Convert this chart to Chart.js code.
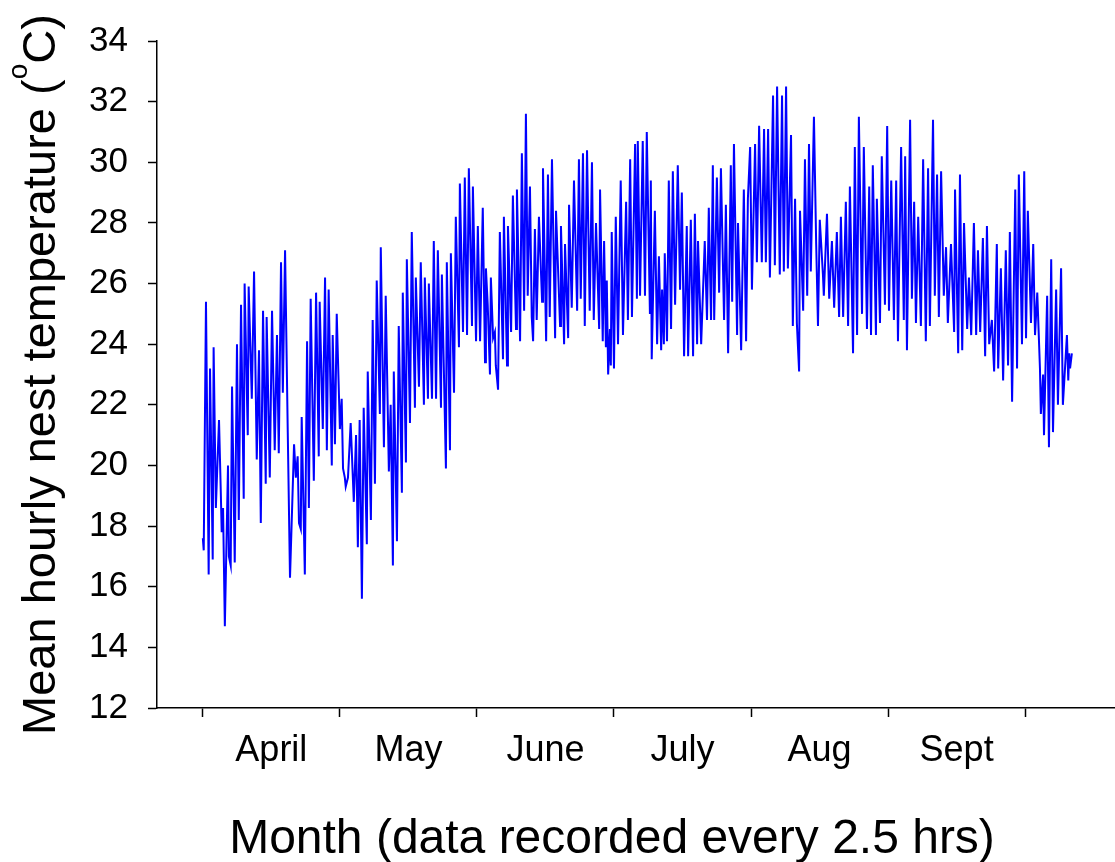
<!DOCTYPE html>
<html>
<head>
<meta charset="utf-8">
<title>Mean hourly nest temperature</title>
<script src="https://cdn.jsdelivr.net/npm/chart.js@4.4.0/dist/chart.umd.min.js"></script>
<style>
  html, body { margin: 0; padding: 0; background: #fff; }
  canvas { display: block; }
</style>
</head>
<body>
<canvas id="nestChart" width="1115" height="862"></canvas>
<script>
//Month names, one per month band on the time axis
const months = ['April', 'May', 'June', 'July', 'Aug', 'Sept'];

//Y axis tick values (deg C)
const tempTicks = [12, 14, 16, 18, 20, 22, 24, 26, 28, 30, 32, 34];

//Time of each reading, days since the start of April
const days = [
    0.0, 0.2, 0.7, 1.3, 1.6, 2.2, 2.4, 2.9, 3.6, 4.0, 4.2, 4.5, 4.9, 5.6, 5.8, 6.2, 6.5, 7.1, 7.6, 8.0,
    8.5, 9.1, 9.3, 10.0, 10.2, 10.9, 11.4, 12.0, 12.5, 12.9, 13.4, 14.0, 14.2, 14.9, 15.4, 16.0, 16.5, 16.9, 17.4, 17.8,
    18.3, 18.9, 19.4, 20.3, 20.7, 21.1, 21.4, 21.8, 22.0, 22.7, 23.2, 23.6,
    24.0, 24.7, 25.2, 25.8, 26.0, 26.7, 27.2, 27.6, 28.0, 28.7, 28.9, 29.4, 29.8, 30.5, 30.9, 31.2, 31.6, 31.8, 32.3, 32.9,
    33.6, 34.1, 34.5, 34.9, 35.4, 35.8, 36.5, 36.7, 37.4, 37.8, 38.3, 38.7, 39.4, 39.6, 40.3, 40.7, 41.4, 41.8, 42.3, 42.5,
    43.2, 43.6, 44.3, 44.5, 45.2, 45.4, 46.1, 46.5, 47.2, 47.4, 48.1,
    48.5, 49.2, 49.4, 50.1, 50.3, 51.0, 51.4, 51.9, 52.3, 53.0, 53.2, 54.1, 54.3, 55.0, 55.2, 55.9, 56.3, 57.0, 57.2, 57.9,
    58.3, 58.8, 59.2, 59.9, 60.1, 60.8, 61.2, 61.7, 62.3, 62.8, 63.0, 63.4, 63.9, 64.1, 64.6, 65.0, 65.2, 65.7, 66.1, 66.8,
    67.0, 67.7, 67.9, 68.6, 69.0, 69.7, 69.9, 70.6, 71.0, 71.5, 71.9, 72.3,
    72.8, 73.2, 73.5, 73.9, 74.3, 74.8, 75.5, 75.7, 76.4, 76.8, 77.2, 77.7, 78.4, 78.6, 79.5, 79.7, 80.4, 80.6, 81.3, 81.5,
    82.1, 82.6, 83.3, 83.7, 84.1, 84.6, 85.0, 85.5, 86.1, 86.6, 87.0, 87.5, 88.2, 88.4, 89.0, 89.3, 89.7, 89.9, 90.2, 90.6,
    90.8, 91.0, 91.5, 91.9, 92.4, 93.0, 93.5, 94.2, 94.6, 95.1, 95.5, 96.2, 96.6,
    96.8, 97.3, 97.9, 98.4, 98.8, 99.5, 99.7, 99.9, 100.6, 101.1, 101.5, 102.0, 102.2, 102.6, 102.8, 103.3, 103.7, 104.2, 104.6, 105.1,
    105.7, 106.2, 106.6, 107.1, 107.7, 108.0, 108.6, 109.1, 109.5, 110.0, 110.2, 110.9, 111.7, 112.2, 112.6, 113.1, 113.5, 113.8, 114.4, 114.9,
    115.3, 116.0, 116.4, 116.9, 117.5, 117.8, 118.2, 118.9, 119.1, 119.8, 120.4, 120.9, 121.3,
    121.8, 122.2, 122.9, 123.3, 123.8, 124.4, 124.9, 125.3, 125.8, 126.2, 126.9, 127.3, 127.8, 128.4, 128.9, 129.3, 129.8, 130.2, 130.9, 131.3,
    131.8, 132.2, 132.7, 132.9, 133.6, 134.0, 134.5, 134.9, 135.3, 136.0, 136.5, 136.9, 137.3, 138.0, 138.2, 138.9, 139.4, 140.0, 140.5, 141.1,
    141.6, 142.0, 142.5, 143.1, 143.6, 144.0, 144.7, 145.1, 145.6, 146.0,
    146.7, 147.1, 147.8, 148.3, 148.7, 149.1, 149.8, 150.0, 150.7, 151.1, 151.8, 152.3, 152.7, 153.2, 153.8, 154.3, 154.7, 155.4, 156.0, 156.3,
    156.7, 157.4, 157.8, 158.3, 158.7, 159.2, 159.8, 160.3, 160.9, 161.4, 161.8, 162.5, 162.9, 163.4, 163.8, 164.3, 164.9, 165.4, 165.8, 166.5,
    167.2, 167.4, 168.1, 168.5, 169.0, 169.4, 170.1,
    170.5, 171.0, 171.6, 172.1, 172.5, 173.0, 173.6, 174.1, 174.5, 175.0, 175.6, 176.1, 176.7, 177.0, 177.6, 178.1, 178.7, 179.2, 179.6, 180.1,
    180.8, 181.2, 181.6, 182.3, 182.8, 183.2, 183.6, 184.3, 184.8, 185.2, 185.7, 186.3, 186.5, 187.0, 187.2, 187.9, 188.3, 188.8, 189.2, 189.9,
    190.3, 191.0, 191.4, 192.3, 192.6, 192.8, 193.0, 193.4
];

//Mean hourly nest temperature at each reading (deg C)
const temps = [
    17.6, 17.2, 25.4, 16.4, 23.2, 16.9, 23.9, 18.6, 21.5, 19.1, 17.8, 18.6, 14.7, 20.0, 17.0, 16.7, 22.6, 16.8, 24.0, 18.2,
    25.3, 18.9, 26.0, 21.0, 25.9, 22.2, 26.4, 20.2, 23.8, 18.1, 25.1, 19.4, 24.9, 19.6, 25.1, 20.5, 24.3, 20.4, 26.7, 22.4,
    27.1, 21.1, 16.3, 20.7, 19.6, 20.3, 18.1, 17.9, 21.6, 16.4, 24.1, 18.6,
    25.5, 19.5, 25.7, 20.3, 25.4, 21.2, 26.2, 20.5, 25.8, 20.0, 24.3, 20.7, 25.0, 21.2, 22.2, 19.9, 19.6, 19.3, 19.6, 21.4,
    18.8, 21.0, 17.3, 21.5, 15.6, 21.9, 17.4, 23.1, 18.2, 24.8, 19.4, 26.1, 21.7, 27.2, 20.6, 25.6, 19.8, 22.0, 16.7, 23.1,
    17.5, 24.6, 19.1, 25.7, 20.1, 26.8, 21.4, 27.7, 21.9, 26.2, 22.6,
    26.7, 22.0, 26.2, 22.2, 26.0, 22.2, 27.4, 22.2, 27.1, 21.9, 26.3, 19.9, 26.7, 20.5, 27.0, 22.4, 28.2, 23.9, 29.3, 24.4,
    29.5, 24.3, 29.8, 24.6, 29.2, 24.1, 27.9, 24.1, 28.5, 23.4, 26.5, 25.3, 23.0, 26.2, 24.2, 24.4, 23.3, 22.5, 27.7, 23.5,
    28.2, 23.3, 27.9, 24.4, 28.9, 24.5, 29.1, 24.1, 30.3, 25.1, 31.6, 25.6,
    29.2, 24.9, 24.1, 27.8, 24.8, 28.2, 25.4, 29.8, 24.1, 29.6, 24.9, 30.1, 24.2, 28.4, 24.6, 27.9, 24.0, 27.3, 24.2, 28.6,
    25.2, 29.4, 25.1, 30.1, 25.5, 30.3, 24.6, 30.4, 25.1, 30.0, 24.8, 28.0, 24.5, 29.1, 24.1, 27.4, 23.9, 26.1, 23.0, 24.5,
    23.3, 27.7, 23.2, 28.2, 24.0, 29.4, 24.3, 28.7, 24.8, 30.1, 24.9, 30.6, 25.5,
    30.7, 25.6, 30.7, 25.6, 31.0, 25.0, 29.4, 23.5, 28.4, 24.0, 26.9, 23.8, 25.8, 24.0, 27.0, 24.1, 29.4, 24.5, 29.7, 25.3,
    29.9, 25.8, 29.0, 23.6, 27.9, 23.6, 28.1, 23.6, 28.3, 24.0, 27.4, 24.0, 27.4, 24.8, 28.5, 24.8, 29.9, 24.8, 29.5, 25.7,
    29.8, 24.8, 28.6, 23.7, 29.9, 25.4, 30.6, 24.3, 28.0, 23.8, 29.1, 24.1, 28.8,
    30.5, 25.8, 30.6, 26.7, 31.2, 26.7, 31.1, 26.7, 31.1, 26.2, 32.2, 26.6, 32.5, 26.3, 32.2, 26.4, 32.5, 26.5, 30.9, 24.6,
    28.8, 24.7, 23.1, 28.4, 25.1, 30.1, 25.6, 30.6, 26.4, 31.5, 27.3, 24.6, 28.1, 26.3, 25.6, 28.3, 25.5, 27.4, 25.2, 27.7,
    24.9, 28.2, 24.9, 28.7, 24.6, 29.2, 23.7, 30.5, 24.3, 31.5,
    25.0, 30.5, 24.5, 29.2, 24.3, 29.9, 24.3, 28.8, 24.7, 30.2, 25.3, 31.2, 25.1, 29.4, 24.8, 29.4, 24.1, 30.5, 24.8, 30.2,
    23.8, 31.4, 25.5, 28.7, 24.7, 28.2, 24.6, 30.1, 24.1, 29.8, 24.6, 31.4, 25.6, 29.6, 24.9, 29.7, 25.6, 27.2, 24.7, 27.3,
    24.4, 29.1, 23.7, 29.6, 23.8, 28.0, 24.5,
    26.2, 24.3, 28.0, 24.3, 27.1, 24.4, 27.5, 23.6, 27.9, 24.0, 24.8, 23.1, 27.3, 23.2, 26.5, 22.8, 27.1, 23.3, 27.7, 22.1,
    29.1, 23.2, 29.6, 24.0, 29.7, 24.2, 28.4, 24.7, 27.3, 24.3, 25.7, 23.2, 21.7, 23.0, 21.0, 25.6, 20.6, 26.8, 21.1, 25.8,
    22.0, 26.5, 22.0, 24.3, 22.8, 23.7, 23.2, 23.7
];

const DAYS_PER_MONTH = 30.5;
const FONT = "'Liberation Sans', Arial, Helvetica, sans-serif";

//Month boundaries get a tick mark, month middles get the name
function buildMonthTicks(scale) {
    const ticks = [];
    for (let i = 0; i <= months.length; i++) {
        ticks.push({ value: i * DAYS_PER_MONTH });
        if (i < months.length) {
            ticks.push({ value: (i + 0.5) * DAYS_PER_MONTH });
        }
    }
    scale.ticks = ticks;
}

//Axis titles (y title has a superscript degree "o")
const axisTitles = {
    id: 'axisTitles',
    afterDraw(chart) {
        const ctx = chart.ctx;
        ctx.save();
        ctx.fillStyle = '#000';
        ctx.textBaseline = 'alphabetic';

        //X title
        ctx.font = '48px ' + FONT;
        ctx.textAlign = 'center';
        ctx.fillText('Month (data recorded every 2.5 hrs)', 612, 853);

        //Y title, rotated
        ctx.translate(55, 735);
        ctx.rotate(-Math.PI / 2);
        ctx.textAlign = 'left';
        let x = 0;
        ctx.font = '47px ' + FONT;
        const main = 'Mean hourly nest temperature (';
        ctx.fillText(main, x, 0);
        x += ctx.measureText(main).width;
        ctx.font = '28px ' + FONT;
        ctx.fillText('o', x, -28);
        x += ctx.measureText('o').width;
        ctx.font = '47px ' + FONT;
        ctx.fillText('C)', x, 0);
        ctx.restore();
    }
};

function renderNestChart() {
    const ctx = document.getElementById('nestChart').getContext('2d');

    const data = {
        datasets: [{
            label: 'Mean hourly nest temperature',
            data: days.map((d, i) => ({ x: d, y: temps[i] })),
            borderColor: '#0000ff',
            backgroundColor: '#0000ff',
            borderWidth: 2,
            pointRadius: 0,
            tension: 0,
            fill: false
        }]
    };

    const options = {
        responsive: false,
        animation: false,
        devicePixelRatio: 1,
        layout: {
            padding: { top: 36, right: 0, bottom: 0, left: 0 }
        },
        scales: {
            x: {
                type: 'linear',
                min: -10.2,
                max: 203.0,
                afterBuildTicks: buildMonthTicks,
                afterFit: function(scale) { scale.height = 154; },
                border: { display: true, color: '#000', width: 1.5 },
                grid: {
                    drawOnChartArea: false,
                    drawTicks: true,
                    tickLength: 9,
                    tickWidth: 1.5,
                    tickColor: function(c) {
                        return c.index % 2 ? 'rgba(0,0,0,0)' : '#000';
                    }
                },
                ticks: {
                    autoSkip: false,
                    maxRotation: 0,
                    padding: 12,
                    color: '#000',
                    font: { family: FONT, size: 36 },
                    callback: function(value, index) {
                        return index % 2 ? months[(index - 1) / 2] : '';
                    }
                }
            },
            y: {
                min: 12,
                max: 34,
                afterBuildTicks: function(scale) {
                    scale.ticks = tempTicks.map(v => ({ value: v }));
                },
                afterFit: function(scale) { scale.width = 157; },
                border: { display: true, color: '#000', width: 1.5 },
                grid: {
                    drawOnChartArea: false,
                    drawTicks: true,
                    tickLength: 9,
                    tickWidth: 1.5,
                    tickColor: '#000'
                },
                ticks: {
                    padding: 20,
                    color: '#000',
                    font: { family: FONT, size: 35 }
                }
            }
        },
        plugins: {
            legend: { display: false },
            tooltip: { enabled: false }
        }
    };

    new Chart(ctx, {
        type: 'line',
        data: data,
        options: options,
        plugins: [axisTitles]
    });
}

document.addEventListener('DOMContentLoaded', renderNestChart);
</script>
</body>
</html>
